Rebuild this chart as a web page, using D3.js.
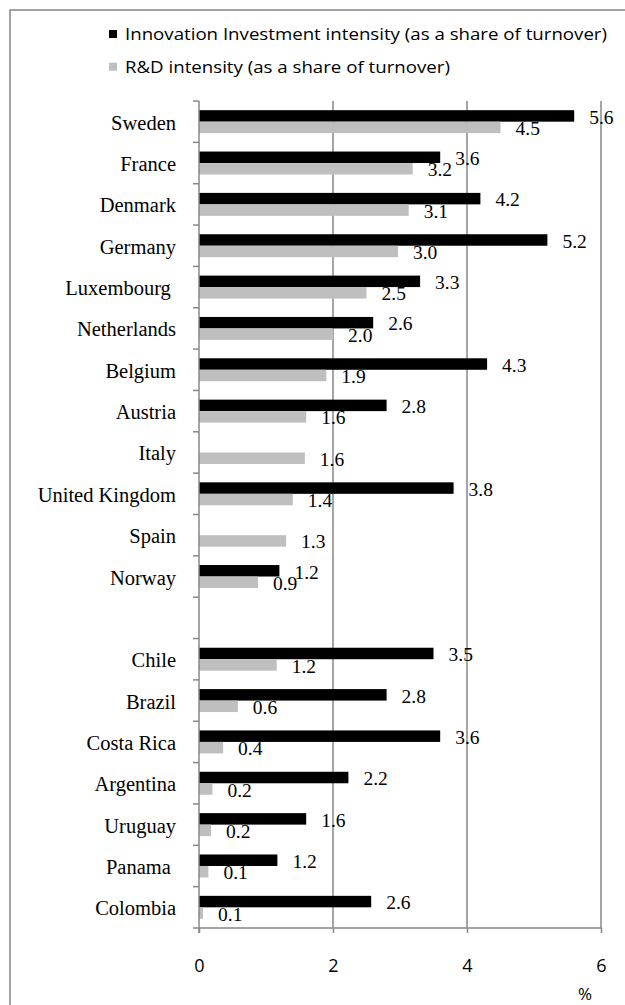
<!DOCTYPE html>
<html>
<head>
<meta charset="utf-8">
<script src="https://cdn.jsdelivr.net/npm/d3@7"></script>
<style>
  html, body { margin: 0; padding: 0; background: #fff; }
  svg { display: block; }
  .cat, .val { font-family: "Liberation Serif", "Times New Roman", serif; }
  .sans { font-family: "Open Sans", "Liberation Sans", sans-serif; }
</style>
</head>
<body>
<svg id="chart" width="625" height="1005"></svg>
<script>
// ---- data ----
const categories = ["Sweden", "France", "Denmark", "Germany", "Luxembourg ", "Netherlands", "Belgium",
  "Austria", "Italy", "United Kingdom", "Spain", "Norway", "",
  "Chile", "Brazil", "Costa Rica", "Argentina", "Uruguay", "Panama ", "Colombia"];
const innovationInvestment = [5.6, 3.6, 4.2, 5.2, 3.3, 2.6, 4.3, 2.8, null, 3.8, null, 1.2, null,
  3.5, 2.8, 3.6, 2.23, 1.6, 1.17, 2.57];
const rdIntensity = [4.5, 3.19, 3.13, 2.97, 2.5, 2.0, 1.9, 1.6, 1.58, 1.4, 1.3, 0.88, null,
  1.16, 0.58, 0.36, 0.2, 0.18, 0.14, 0.06];
const xTicks = [0, 2, 4, 6];
const seriesNames = ["Innovation Investment intensity (as a share of turnover)",
  "R&D intensity (as a share of turnover)"];
const seriesColors = ["#000000", "#bfbfbf"];
const unitLabel = "%";

// ---- layout ----
const svg = d3.select("#chart");
const axisCol = "#878787";
const x = d3.scaleLinear().domain([0, 6]).range([199, 601]);
const y = d3.scaleBand().domain(categories).range([101, 928]).paddingInner(0).paddingOuter(0);
const bw = y.bandwidth();
const barH = bw / 1.8 / 2;

// outer border
svg.append("path").attr("d", "M10,1010 L10,10 L630,10")
  .attr("fill", "none").attr("stroke", axisCol).attr("stroke-width", 1.5);

// gridlines
svg.append("g").selectAll("line").data(xTicks.filter(d => d > 0)).join("line")
  .attr("x1", d => x(d)).attr("x2", d => x(d))
  .attr("y1", y.range()[0]).attr("y2", y.range()[1])
  .attr("stroke", axisCol).attr("stroke-width", 1.5);

// rows
const rows = categories.map((c, i) => ({ c, ii: innovationInvestment[i], rd: rdIntensity[i] }));
const fmt = d3.format(".1f");

const g = svg.append("g");
rows.forEach(r => {
  if (r.c === "") return;
  const cy = y(r.c) + bw / 2;
  if (r.ii != null) {
    g.append("rect").attr("x", x(0)).attr("y", cy - barH)
      .attr("width", x(r.ii) - x(0)).attr("height", barH).attr("fill", seriesColors[0]);
  }
  if (r.rd != null) {
    g.append("rect").attr("x", x(0)).attr("y", cy)
      .attr("width", x(r.rd) - x(0)).attr("height", barH).attr("fill", seriesColors[1]);
  }
});
// value labels
rows.forEach(r => {
  if (r.c === "") return;
  const cy = y(r.c) + bw / 2;
  if (r.ii != null) {
    g.append("text").attr("class", "val").attr("x", x(r.ii) + 15).attr("y", cy + 2)
      .attr("font-size", 19.5).attr("fill", "#000").text(fmt(r.ii));
  }
  if (r.rd != null) {
    g.append("text").attr("class", "val").attr("x", x(r.rd) + 15).attr("y", cy + barH + 1.8)
      .attr("font-size", 19.5).attr("fill", "#000").text(fmt(r.rd));
  }
});

// category labels
svg.append("g").selectAll("text").data(categories.filter(c => c !== "")).join("text")
  .attr("class", "cat")
  .attr("xml:space", "preserve")
  .style("white-space", "pre")
  .attr("x", 176).attr("y", d => y(d) + bw / 2 + 8)
  .attr("text-anchor", "end").attr("font-size", 20.5).attr("fill", "#000")
  .text(d => d);

// y axis line and ticks at band boundaries
svg.append("line").attr("x1", x(0)).attr("x2", x(0))
  .attr("y1", y.range()[0]).attr("y2", y.range()[1] + 5)
  .attr("stroke", axisCol).attr("stroke-width", 1.5);
const bounds = categories.map(c => y(c)).concat([y.range()[1]]);
svg.append("g").selectAll("line").data(bounds).join("line")
  .attr("x1", x(0) - 6).attr("x2", x(0))
  .attr("y1", d => d).attr("y2", d => d)
  .attr("stroke", axisCol).attr("stroke-width", 1.5);

// x axis
svg.append("line").attr("x1", x(0)).attr("x2", x(6))
  .attr("y1", y.range()[1]).attr("y2", y.range()[1])
  .attr("stroke", axisCol).attr("stroke-width", 1.5);
const xa = svg.append("g").attr("transform", `translate(0,${y.range()[1]})`)
  .call(d3.axisBottom(x).tickValues(xTicks).tickSize(5).tickSizeOuter(0).tickFormat(d3.format("d")));
xa.select(".domain").remove();
xa.selectAll(".tick line").attr("stroke", axisCol).attr("stroke-width", 1.5);
xa.selectAll(".tick text").attr("class", "sans").attr("font-size", 18).attr("fill", "#000")
  .attr("dy", null).attr("y", 43.5);

svg.append("text").attr("class", "sans").attr("x", 585).attr("y", 1000)
  .attr("text-anchor", "middle").attr("font-size", 17).attr("fill", "#000").text(unitLabel);

// legend
const lg = svg.append("g");
const legendY = [34, 66.7];
seriesNames.forEach((name, i) => {
  lg.append("rect").attr("x", 109).attr("y", legendY[i] - 4).attr("width", 8).attr("height", 8)
    .attr("fill", seriesColors[i]);
  lg.append("text").attr("class", "sans legtxt").attr("x", 125).attr("y", legendY[i] + 6)
    .attr("font-size", 16).attr("fill", "#000").text(name);
});
// fit legend text width to the reference (first line ends near x=607)
const lt = lg.selectAll(".legtxt").nodes();
const w0 = lt[0].getComputedTextLength();
const k = 482 / w0;
lt.forEach(n => {
  const w = n.getComputedTextLength();
  d3.select(n).attr("textLength", w * k).attr("lengthAdjust", "spacingAndGlyphs");
});
</script>
</body>
</html>
